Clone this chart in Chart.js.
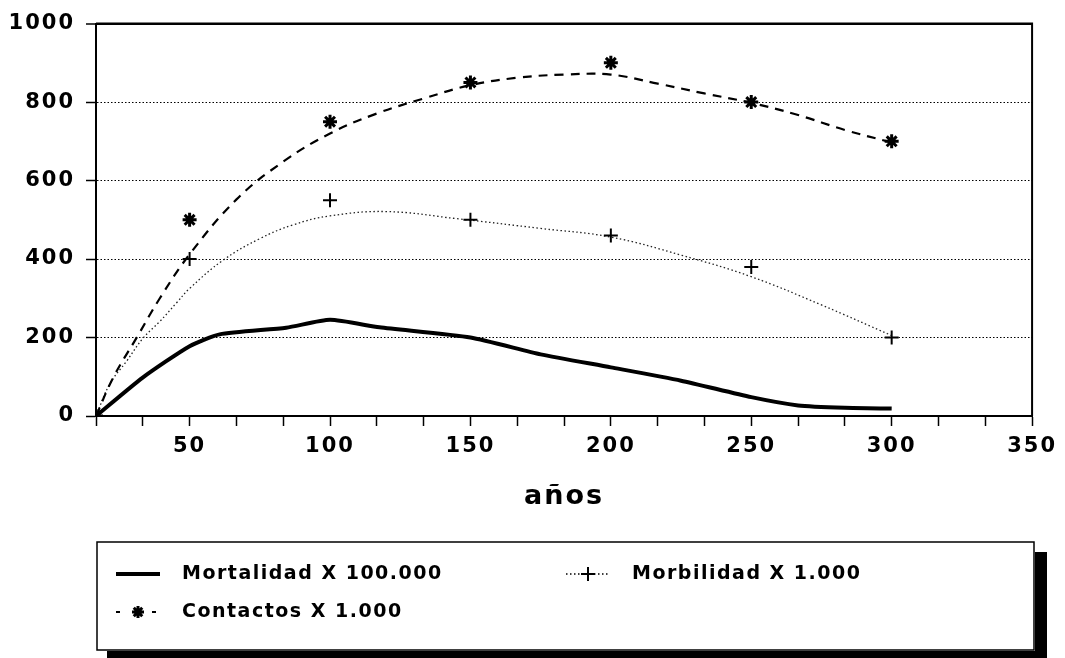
<!DOCTYPE html>
<html>
<head>
<meta charset="utf-8">
<title>Mortalidad, morbilidad y contactos</title>
<script src="https://cdn.jsdelivr.net/npm/chart.js@4.4.0/dist/chart.umd.min.js"></script>
<style>
    html, body { margin: 0; padding: 0; background: #fff; }
    #wrap { width: 1065px; height: 658px; position: relative; }
</style>
</head>
<body>
<div id="wrap"><canvas id="chart"></canvas></div>
<script>
// Axis ticks (x: minor tick every 50/3 años, label every 50)
const xTicks = [16.667, 33.333, 50, 66.667, 83.333, 100, 116.667, 133.333, 150, 166.667,
    183.333, 200, 216.667, 233.333, 250, 266.667, 283.333, 300, 316.667, 333.333, 350];
const yTicks = [0, 200, 400, 600, 800, 1000];

// Observed points (markers)
const markerYears = [16.667, 50, 100, 150, 200, 250, 300];
const contactosPts = [0, 500, 750, 850, 900, 800, 700];
const morbilidadPts = [0, 400, 550, 500, 460, 380, 200];

// Fitted curves
const contactosCurveYears = [16.667, 22.8, 31.1, 39.4, 50, 66.7, 83.3, 100, 116.7, 133.3,
    150, 166.7, 183.3, 200, 216.7, 233.3, 250, 266.7, 283.3, 300];
const contactosCurve = [0, 98, 199, 300, 412, 552, 648, 720, 771, 809,
    843, 862, 870, 870, 847, 822, 798, 767, 729, 697];

const morbilidadCurveYears = [16.667, 21.6, 27.6, 33.5, 39.4, 45.3, 50, 61.9, 75, 86.8,
    100, 120, 145, 175, 200, 225, 250, 275, 300];
const morbilidadCurve = [0, 82, 140, 199, 241, 288, 325, 397, 452, 487,
    510, 521, 503, 478, 456, 410, 355, 283, 205];

const mortalidadYears = [16.667, 33.3, 50, 60.7, 84.4, 100, 117.6, 150, 175, 200,
    225, 250, 266.7, 283.3, 300];
const mortalidad = [0, 98, 178, 208, 225, 245, 226, 200, 157, 124,
    90, 48, 27, 21, 19];

const labelMortalidad = 'Mortalidad X 100.000';
const labelMorbilidad = 'Morbilidad X 1.000';
const labelContactos = 'Contactos X 1.000';
const xTitle = 'años';

const FONT = "'DejaVu Sans', 'Liberation Sans', sans-serif";

function pairs(xs, ys) {
    return xs.map((x, i) => ({ x: x, y: ys[i] }));
}

// wide old-plotter lettering: add letter spacing to every text Chart.js draws
const spacingPlugin = {
    id: 'spacing',
    beforeUpdate(chart) { chart.ctx.letterSpacing = '2px'; },
    beforeDraw(chart) { chart.ctx.letterSpacing = '2px'; }
};

// top and right frame of the plot area
const framePlugin = {
    id: 'frame',
    afterDraw(chart) {
        const a = chart.chartArea;
        const ctx = chart.ctx;
        ctx.save();
        ctx.strokeStyle = '#000';
        ctx.lineWidth = 2;
        ctx.beginPath();
        ctx.moveTo(a.left, a.top);
        ctx.lineTo(a.right, a.top);
        ctx.lineTo(a.right, a.bottom);
        ctx.stroke();
        ctx.restore();
    }
};

function drawMarker(ctx, style, x, y, r, w) {
    ctx.save();
    ctx.setLineDash([]);
    ctx.lineWidth = w;
    ctx.strokeStyle = '#000';
    ctx.beginPath();
    ctx.moveTo(x - r, y); ctx.lineTo(x + r, y);
    ctx.moveTo(x, y - r); ctx.lineTo(x, y + r);
    if (style === 'star') {
        const d = r * 0.707;
        ctx.moveTo(x - d, y - d); ctx.lineTo(x + d, y + d);
        ctx.moveTo(x - d, y + d); ctx.lineTo(x + d, y - d);
    }
    ctx.stroke();
    ctx.restore();
}

// boxed legend with a drop shadow below the axis
const boxLegendPlugin = {
    id: 'boxLegend',
    afterDraw(chart) {
        const ctx = chart.ctx;
        const ds = chart.data.datasets;
        const box = { left: 97, top: 542, right: 1034, bottom: 650 };

        ctx.save();
        ctx.fillStyle = '#000';
        ctx.fillRect(box.right + 1, box.top + 10, 12, box.bottom - box.top + 8);
        ctx.fillRect(box.left + 10, box.bottom + 1, box.right - box.left + 3, 8);
        ctx.fillStyle = '#fff';
        ctx.fillRect(box.left, box.top, box.right - box.left, box.bottom - box.top);
        ctx.strokeStyle = '#000';
        ctx.lineWidth = 1.5;
        ctx.strokeRect(box.left, box.top, box.right - box.left, box.bottom - box.top);

        const entries = [
            { ds: ds[0], x: 116, y: 574, marker: null },
            { ds: ds[1], x: 566, y: 574, marker: 'cross' },
            { ds: ds[2], x: 116, y: 612, marker: 'star' }
        ];
        entries.forEach(e => {
            ctx.save();
            ctx.strokeStyle = '#000';
            ctx.lineWidth = e.ds.borderWidth;
            if (e.marker === 'star') {
                ctx.lineWidth = 2;
                ctx.setLineDash([4, 14]);
            } else {
                ctx.setLineDash(e.ds.borderDash || []);
            }
            ctx.beginPath();
            ctx.moveTo(e.x, e.y);
            ctx.lineTo(e.x + 44, e.y);
            ctx.stroke();
            ctx.restore();
            if (e.marker) {
                drawMarker(ctx, e.marker, e.x + 22, e.y, e.marker === 'star' ? 6 : 7, e.marker === 'star' ? 3 : 2);
            }
            ctx.save();
            ctx.letterSpacing = '1.5px';
            ctx.font = 'bold 19px ' + FONT;
            ctx.fillStyle = '#000';
            ctx.textBaseline = 'middle';
            ctx.textAlign = 'left';
            ctx.fillText(e.ds.label, e.x + 66, e.y);
            ctx.restore();
        });
        ctx.restore();
    }
};

const chart = new Chart(document.getElementById('chart'), {
    type: 'line',
    data: {
        datasets: [
            {
                label: labelMortalidad,
                data: pairs(mortalidadYears, mortalidad),
                borderColor: '#000',
                borderWidth: 4,
                pointRadius: 0,
                tension: 0.2,
                order: 3
            },
            {
                label: labelMorbilidad,
                data: pairs(morbilidadCurveYears, morbilidadCurve),
                borderColor: '#222',
                borderWidth: 1.3,
                borderDash: [1.5, 2.5],
                pointRadius: 0,
                tension: 0.4,
                order: 2
            },
            {
                label: labelContactos,
                data: pairs(contactosCurveYears, contactosCurve),
                borderColor: '#000',
                borderWidth: 2.2,
                borderDash: [9, 7],
                pointRadius: 0,
                tension: 0.4,
                order: 1
            },
            {
                label: labelMorbilidad + ' (puntos)',
                data: pairs(markerYears, morbilidadPts),
                showLine: false,
                pointStyle: 'cross',
                pointRadius: 7,
                pointBorderWidth: 2,
                pointBorderColor: '#000',
                order: 0
            },
            {
                label: labelContactos + ' (puntos)',
                data: pairs(markerYears, contactosPts),
                showLine: false,
                pointStyle: 'star',
                pointRadius: 7,
                pointBorderWidth: 3,
                pointBorderColor: '#000',
                order: 0
            }
        ]
    },
    options: {
        responsive: true,
        maintainAspectRatio: false,
        animation: false,
        layout: { padding: { left: 0, top: 20, right: 31, bottom: 132 } },
        plugins: {
            legend: { display: false },
            tooltip: { enabled: false }
        },
        scales: {
            x: {
                type: 'linear',
                min: xTicks[0],
                max: xTicks[xTicks.length - 1],
                afterBuildTicks: scale => { scale.ticks = xTicks.map(v => ({ value: v })); },
                afterFit: scale => { scale.height = 110; },
                ticks: {
                    autoSkip: false,
                    maxRotation: 0,
                    padding: 8,
                    color: '#000',
                    font: { family: FONT, size: 21, weight: 'bold' },
                    callback: v => (Number.isInteger(v) && v % 50 === 0) ? String(v) : ''
                },
                grid: {
                    drawOnChartArea: false,
                    drawTicks: true,
                    tickLength: 10,
                    tickWidth: 1.5,
                    tickColor: '#000'
                },
                border: { display: true, color: '#000', width: 2 },
                title: {
                    display: true,
                    text: xTitle,
                    color: '#000',
                    font: { family: FONT, size: 27, weight: 'bold' },
                    padding: { top: 4, bottom: 13 }
                }
            },
            y: {
                min: yTicks[0],
                max: yTicks[yTicks.length - 1],
                afterBuildTicks: scale => { scale.ticks = yTicks.map(v => ({ value: v })); },
                afterFit: scale => { scale.width = 96; },
                ticks: {
                    padding: 11,
                    color: '#000',
                    font: { family: FONT, size: 21, weight: 'bold' },
                    callback: v => String(v)
                },
                grid: {
                    color: '#000',
                    lineWidth: ctx => ctx.tick && ctx.tick.value === 1000 ? 2 : 1,
                    tickLength: 10,
                    tickWidth: 1.5,
                    tickColor: '#000'
                },
                border: {
                    display: true,
                    color: '#000',
                    width: 2,
                    dash: ctx => (ctx.tick && (ctx.tick.value === 0 || ctx.tick.value === 1000)) ? [] : [1.5, 2]
                }
            }
        }
    },
    plugins: [spacingPlugin, framePlugin, boxLegendPlugin]
});
</script>
</body>
</html>
